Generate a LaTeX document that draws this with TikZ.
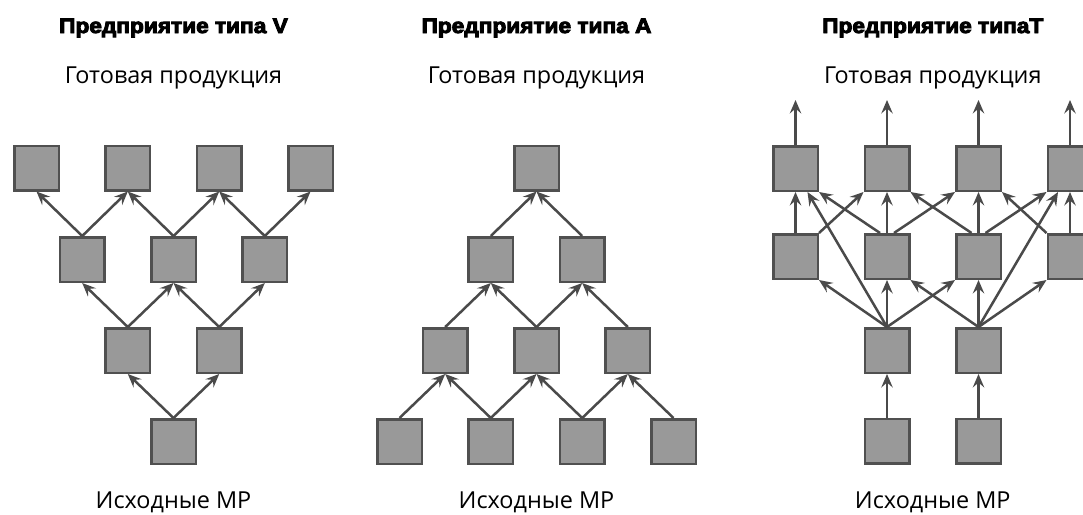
\documentclass[tikz,border=0pt]{standalone}
\usepackage{fontspec}
\setmainfont{Open Sans}
\newfontfamily\headfont{Liberation Sans Bold}[FakeBold=4.5,FakeStretch=1.08]
\usetikzlibrary{arrows.meta}
\definecolor{boxfill}{HTML}{999999}
\definecolor{boxline}{HTML}{505050}
\definecolor{arrowcol}{HTML}{4A4A4A}
\begin{document}
\begin{tikzpicture}[x=1pt,y=-1pt,
  box/.style={draw=boxline, fill=boxfill, line width=2.5pt, minimum size=44.5pt, inner sep=0pt},
  link/.style={draw=arrowcol, line width=2.5pt, -{Stealth[length=13.5pt,width=11.5pt,inset=5pt]}},
  heading/.style={font=\headfont\fontsize{21}{24}\selectfont, anchor=base, inner sep=0pt},
  caption/.style={font=\fontsize{23.4}{28}\selectfont, anchor=base, inner sep=0pt}]
\useasboundingbox (0,0) rectangle (1083,514);
\clip (0,0) rectangle (1083,514);

% ---------- type V ----------
\node[heading] (vhead) at (173.5,33) {Предприятие типа V};
\node[caption] (vout) at (173.5,83) {Готовая продукция};
\node[caption] (vin) at (173.5,508) {Исходные МР};
\foreach \i/\x in {1/36.5,2/127.8,3/219.2,4/310.5} \node[box] (v1\i) at (\x,168) {};
\foreach \i/\x in {1/82.2,2/173.5,3/264.8} \node[box] (v2\i) at (\x,259.5) {};
\foreach \i/\x in {1/127.8,2/219.2} \node[box] (v3\i) at (\x,350.5) {};
\node[box] (v41) at (173.5,441.5) {};
\draw[link] (v21.north) -- (v11.south);
\draw[link] (v21.north) -- (v12.south);
\draw[link] (v22.north) -- (v12.south);
\draw[link] (v22.north) -- (v13.south);
\draw[link] (v23.north) -- (v13.south);
\draw[link] (v23.north) -- (v14.south);
\draw[link] (v31.north) -- (v21.south);
\draw[link] (v31.north) -- (v22.south);
\draw[link] (v32.north) -- (v22.south);
\draw[link] (v32.north) -- (v23.south);
\draw[link] (v41.north) -- (v31.south);
\draw[link] (v41.north) -- (v32.south);

% ---------- type A ----------
\node[heading] (ahead) at (536.5,33) {Предприятие типа A};
\node[caption] (aout) at (536.5,83) {Готовая продукция};
\node[caption] (ain) at (536.5,508) {Исходные МР};
\node[box] (a11) at (536.5,168) {};
\foreach \i/\x in {1/490.8,2/582.2} \node[box] (a2\i) at (\x,259.5) {};
\foreach \i/\x in {1/445.2,2/536.5,3/627.8} \node[box] (a3\i) at (\x,350.5) {};
\foreach \i/\x in {1/399.5,2/490.8,3/582.2,4/673.5} \node[box] (a4\i) at (\x,441.5) {};
\draw[link] (a21.north) -- (a11.south);
\draw[link] (a22.north) -- (a11.south);
\draw[link] (a31.north) -- (a21.south);
\draw[link] (a32.north) -- (a21.south);
\draw[link] (a32.north) -- (a22.south);
\draw[link] (a33.north) -- (a22.south);
\draw[link] (a41.north) -- (a31.south);
\draw[link] (a42.north) -- (a31.south);
\draw[link] (a42.north) -- (a32.south);
\draw[link] (a43.north) -- (a32.south);
\draw[link] (a43.north) -- (a33.south);
\draw[link] (a44.north) -- (a33.south);

% ---------- type T ----------
\node[heading] (thead) at (932.75,33) {Предприятие типаT};
\node[caption] (tout) at (932.75,83) {Готовая продукция};
\node[caption] (tin) at (932.75,508) {Исходные МР};
\foreach \i/\x in {1/795.5,2/887,3/978.5,4/1070} {
  \node[box] (t1\i) at (\x,168.5) {};
  \node[box] (t2\i) at (\x,256.5) {};
  \coordinate (out\i) at (\x,100);
}
\foreach \i/\x in {1/887,2/978.5} {
  \node[box] (t3\i) at (\x,350.5) {};
  \node[box] (t4\i) at (\x,441) {};
}
% finished goods leaving the top row
\foreach \i in {1,...,4} \draw[link] (t1\i.north) -- (out\i);
% second row to top row
\foreach \i in {1,...,4} \draw[link] (t2\i.north) -- (t1\i.south);
\draw[link] (t21.north east) -- (t12.south west);
\draw[link] ([xshift=-7pt]t22.north) -- (t11.south east);
\draw[link] ([xshift=7pt]t22.north) -- (t13.south west);
\draw[link] ([xshift=-7pt]t23.north) -- (t12.south east);
\draw[link] ([xshift=7pt]t23.north) -- (t14.south west);
\draw[link] (t24.north west) -- (t13.south east);
% third row to the upper rows
\draw[link] (t31.north) -- ([xshift=12pt]t11.south);
\draw[link] (t32.north) -- ([xshift=-12pt]t14.south);
\draw[link] (t31.north) -- (t21.south east);
\draw[link] (t31.north) -- (t22.south);
\draw[link] (t31.north) -- (t23.south west);
\draw[link] (t32.north) -- (t22.south east);
\draw[link] (t32.north) -- (t23.south);
\draw[link] (t32.north) -- (t24.south west);
% raw materials
\draw[link] (t41.north) -- (t31.south);
\draw[link] (t42.north) -- (t32.south);
\end{tikzpicture}
\end{document}
